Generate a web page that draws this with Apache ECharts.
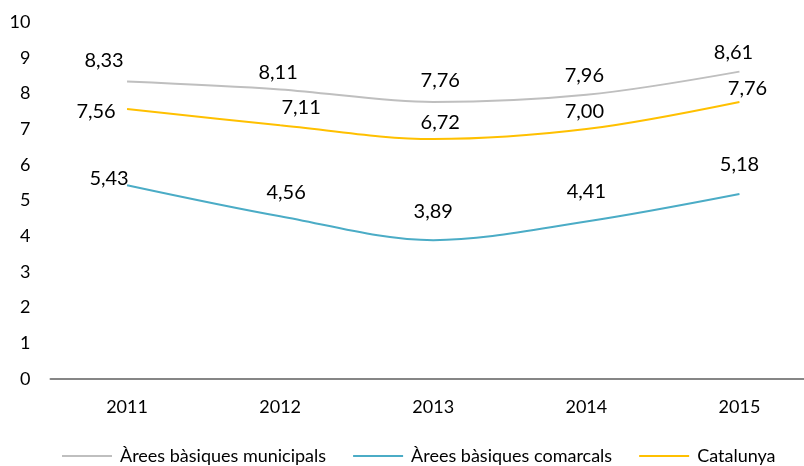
<!DOCTYPE html>
<html>
<head>
<meta charset="utf-8">
<script src="https://cdn.jsdelivr.net/npm/echarts@6/dist/echarts.min.js"></script>
<style>
  html, body { margin: 0; padding: 0; background: #fff; overflow: hidden; }
  /* the plot area runs a little past the right edge, so the frame crops it */
  #frame { width: 804px; height: 466px; overflow: hidden; }
  #chart { width: 816px; height: 466px; }
</style>
</head>
<body>
<div id="frame"><div id="chart"></div></div>
<script>
// Years on the category axis
const years = ['2011', '2012', '2013', '2014', '2015'];

// Series names
const seriesNames = ['Àrees bàsiques municipals', 'Àrees bàsiques comarcals', 'Catalunya'];

// Values per series
const municipals = [8.33, 8.11, 7.76, 7.96, 8.61];
const comarcals = [5.43, 4.56, 3.89, 4.41, 5.18];
const catalunya = [7.56, 7.11, 6.72, 7.00, 7.76];

// Y axis ticks
const yMin = 0, yMax = 10, yStep = 1;

// Label placement (pixel offsets from each point), kept apart from the data
const offsetsMunicipals = [[-23, -21], [-2, -17], [7, -21], [-2, -19], [-6, -19]];
const offsetsComarcals = [[-18, -7], [6, -24], [0, -29], [0, -30], [0, -30]];
const offsetsCatalunya = [[-31, 2], [21, -18], [7, -17], [-2, -18], [8, -13]];

const FONT = 'Lato';
const fmt = v => v.toFixed(2).replace('.', ',');

function makeSeries(name, values, offsets, color) {
  return {
    name: name,
    type: 'line',
    smooth: 0.33,
    symbol: 'circle',
    symbolSize: 0,
    color: color,
    lineStyle: { color: color, width: 2 },
    itemStyle: { color: color },
    emphasis: { disabled: true },
    data: values.map((v, i) => ({
      value: v,
      label: {
        show: true,
        position: 'inside',
        offset: offsets[i],
        formatter: () => fmt(v),
        color: '#000',
        fontFamily: FONT,
        fontSize: 20
      }
    }))
  };
}

const chart = echarts.init(document.getElementById('chart'), null, { renderer: 'canvas' });
chart.setOption({
  animation: false,
  backgroundColor: '#fff',
  grid: { left: 50.5, right: 0, top: 22, bottom: 87, containLabel: false },
  legend: {
    data: seriesNames,
    left: 62,
    top: 447,
    padding: 0,
    icon: 'rect',
    itemWidth: 50,
    itemHeight: 2,
    itemGap: 27,
    textStyle: { fontFamily: FONT, fontSize: 18, color: '#000', padding: [0, 0, 0, 3] }
  },
  xAxis: {
    type: 'category',
    data: years,
    boundaryGap: true,
    axisLine: { lineStyle: { color: '#868686', width: 2 } },
    axisTick: { show: false },
    axisLabel: { color: '#000', fontFamily: FONT, fontSize: 18, margin: 19 }
  },
  yAxis: {
    type: 'value',
    min: yMin,
    max: yMax,
    interval: yStep,
    splitLine: { show: false },
    axisLine: { show: false },
    axisTick: { show: false },
    axisLabel: { color: '#000', fontFamily: FONT, fontSize: 18, margin: 20 }
  },
  series: [
    makeSeries(seriesNames[0], municipals, offsetsMunicipals, '#BFBFBF'),
    makeSeries(seriesNames[1], comarcals, offsetsComarcals, '#4BACC6'),
    makeSeries(seriesNames[2], catalunya, offsetsCatalunya, '#FFC000')
  ]
});
</script>
</body>
</html>
